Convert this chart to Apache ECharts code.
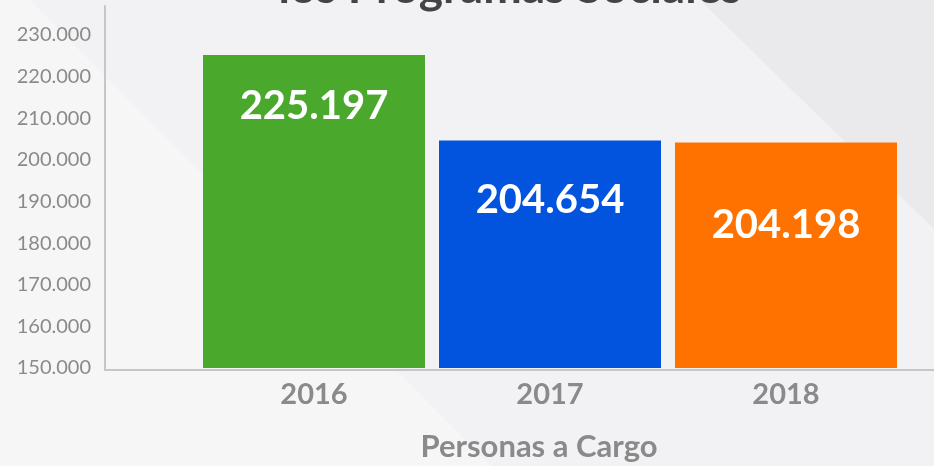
<!DOCTYPE html>
<html>
<head>
<meta charset="utf-8">
<script src="https://cdn.jsdelivr.net/npm/echarts@6/dist/echarts.min.js"></script>
<style>
  html, body { margin: 0; padding: 0; background: #f6f6f6; }
  #main { width: 934px; height: 466px; }
</style>
</head>
<body>
<div id="main"></div>
<script>
// datos
var anios = ['2016', '2017', '2018'];
var personas = [225197, 204654, 204198];
var ticksY = [150000, 230000, 10000]; // min, max, intervalo

// estilo de cada barra (no son datos)
var colores = ['#4aa82d', '#0254df', '#ff7200'];
var posEtiqueta = [51, 60, 83];

function miles(v) {
  return String(v).replace(/\B(?=(\d{3})+(?!\d))/g, '.');
}

var chart = echarts.init(document.getElementById('main'));

chart.setOption({
  backgroundColor: '#f6f6f6',
  animation: false,
  graphic: [
    {
      type: 'polygon', z: -10, silent: true,
      shape: { points: [[30, 0], [934, 0], [934, 466], [491, 466]] },
      style: { fill: '#f2f2f4' }
    },
    {
      type: 'polygon', z: -9, silent: true,
      shape: { points: [[700, 0], [934, 0], [934, 229]] },
      style: { fill: '#eaeaec' }
    },
    {
      type: 'text', x: 510, y: -12,
      style: {
        text: 'los Programas Sociales',
        font: 'bold 46px Lato',
        fill: '#444444',
        align: 'center',
        verticalAlign: 'middle'
      }
    },
    {
      type: 'text', x: 539, y: 447,
      style: {
        text: 'Personas a Cargo',
        font: 'bold 31px Lato',
        fill: '#8a8a8a',
        align: 'center',
        verticalAlign: 'middle'
      }
    }
  ],
  grid: [
    { left: 196, right: 30, top: 35, bottom: 98 },
    { left: 105, right: 0, top: 6, bottom: 96 }
  ],
  xAxis: [
    {
      gridIndex: 0,
      type: 'category',
      data: anios,
      axisLine: { show: false },
      axisTick: { show: false },
      axisLabel: {
        margin: 12,
        color: '#8a8a8a',
        fontFamily: 'Lato',
        fontWeight: 'bold',
        fontSize: 29
      }
    },
    {
      gridIndex: 1,
      type: 'value', min: 0, max: 1,
      axisLabel: { show: false },
      axisTick: { show: false },
      splitLine: { show: false },
      axisLine: { lineStyle: { color: '#c5c5cb', width: 2 } }
    }
  ],
  yAxis: [
    {
      gridIndex: 0,
      type: 'value',
      min: ticksY[0],
      max: ticksY[1],
      interval: ticksY[2],
      offset: 91,
      axisLine: { show: false },
      axisTick: { show: false },
      splitLine: { show: false },
      axisLabel: {
        margin: 14,
        color: '#8a8a8a',
        fontFamily: 'Lato',
        fontSize: 20,
        formatter: miles
      }
    },
    {
      gridIndex: 1,
      type: 'value', min: 0, max: 1,
      axisLabel: { show: false },
      axisTick: { show: false },
      splitLine: { show: false },
      axisLine: { lineStyle: { color: '#c5c5cb', width: 2 } }
    }
  ],
  series: [
    {
      type: 'bar',
      xAxisIndex: 0,
      yAxisIndex: 0,
      barWidth: 222,
      data: personas.map(function (v, i) {
        return {
          value: v,
          itemStyle: { color: colores[i] },
          label: { position: ['50%', posEtiqueta[i]] }
        };
      }),
      label: {
        show: true,
        align: 'center',
        verticalAlign: 'middle',
        color: '#ffffff',
        fontFamily: 'Lato',
        fontWeight: 'bold',
        fontSize: 40,
        formatter: function (p) { return miles(p.value); }
      }
    }
  ]
});
</script>
</body>
</html>
